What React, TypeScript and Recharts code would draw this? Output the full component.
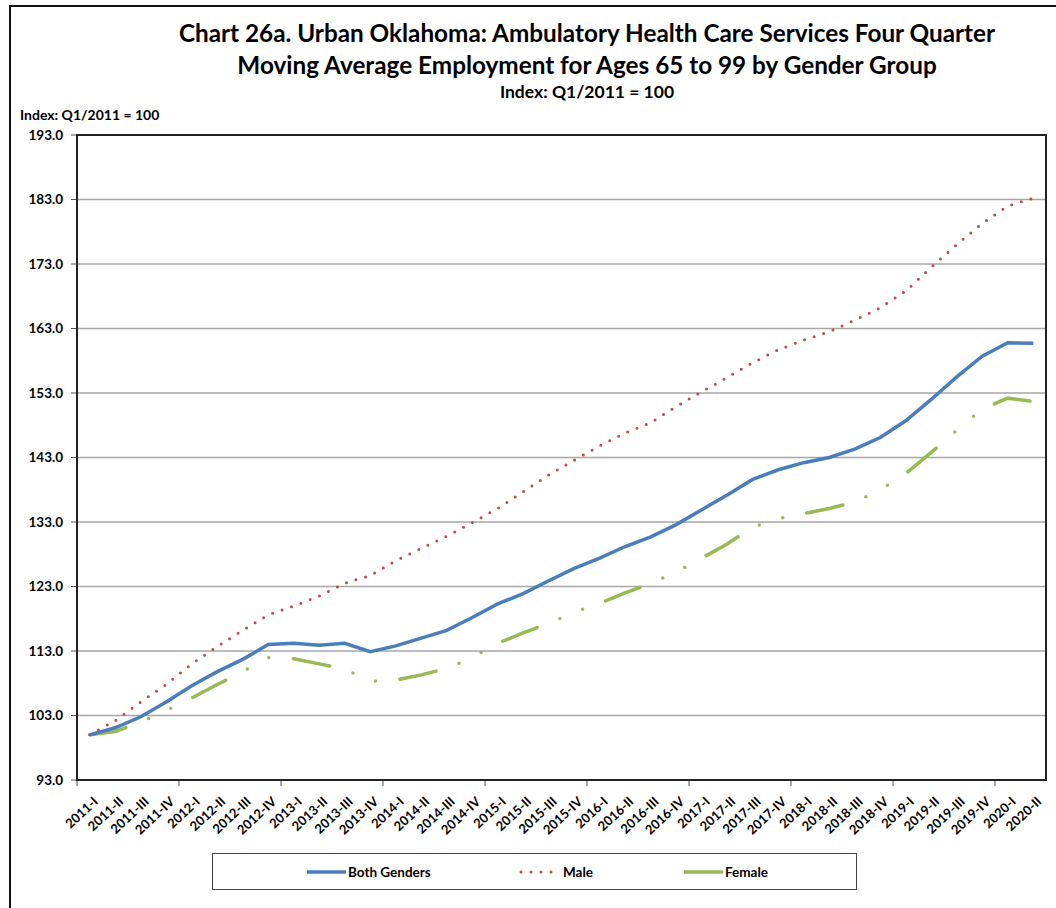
import React from "react";
import { LineChart, Line, XAxis, YAxis, CartesianGrid } from "recharts";

const quarters = [
  "2011-I", "2011-II", "2011-III", "2011-IV",
  "2012-I", "2012-II", "2012-III", "2012-IV",
  "2013-I", "2013-II", "2013-III", "2013-IV",
  "2014-I", "2014-II", "2014-III", "2014-IV",
  "2015-I", "2015-II", "2015-III", "2015-IV",
  "2016-I", "2016-II", "2016-III", "2016-IV",
  "2017-I", "2017-II", "2017-III", "2017-IV",
  "2018-I", "2018-II", "2018-III", "2018-IV",
  "2019-I", "2019-II", "2019-III", "2019-IV",
  "2020-I", "2020-II",
];

const bothGenders = [
  100.0, 101.1, 102.8, 105.1, 107.6, 109.8, 111.7, 114.0, 114.2, 113.9,
  114.2, 112.9, 113.8, 115.0, 116.2, 118.2, 120.3, 121.9, 123.9, 125.8,
  127.4, 129.2, 130.7, 132.6, 134.9, 137.2, 139.6, 141.1, 142.2, 143.0,
  144.3, 146.1, 148.7, 152.0, 155.5, 158.7, 160.8, 160.7,
];

const male = [
  100.0, 102.2, 105.1, 107.8, 111.0, 113.7, 116.2, 118.6, 120.0, 121.5,
  123.5, 124.7, 127.0, 128.9, 130.8, 132.9, 135.1, 137.7, 140.3, 142.6,
  144.8, 146.8, 148.4, 150.9, 153.2, 155.4, 157.7, 159.7, 161.2, 162.5,
  164.3, 166.2, 168.8, 172.5, 176.0, 179.3, 182.0, 183.2,
];

const female = [
  100.0, 100.5, 102.0, 103.8, 105.7, 107.8, 109.8, 112.0, 111.8, 111.0,
  110.2, 108.3, 108.5, 109.3, 110.3, 112.0, 114.2, 115.8, 117.3, 119.0,
  120.4, 122.0, 123.5, 125.2, 127.4, 129.6, 132.2, 133.5, 134.3, 135.1,
  136.1, 138.0, 140.5, 143.8, 147.2, 150.5, 152.2, 151.7,
];

const yTicks = [93, 103, 113, 123, 133, 143, 153, 163, 173, 183, 193];

const data = quarters.map((q, i) => ({
  q,
  both: bothGenders[i],
  male: male[i],
  female: female[i],
}));

const W = 1056;
const H = 908;
const PLOT_LEFT = 77;
const PLOT_RIGHT = 1046;
const PLOT_TOP = 135;
const PLOT_BOTTOM = 780;
const HALF_STEP = (PLOT_RIGHT - PLOT_LEFT) / quarters.length / 2;
const FONT = "Lato, 'Open Sans', sans-serif";

const BLUE = "#4a7ebb";
const RED = "#be4b48";
const GREEN = "#98b954";

function QuarterTick(props: any) {
  const { x, payload, index } = props;
  return (
    <g>
      {index % 4 === 0 && (
        <line x1={x - HALF_STEP} x2={x - HALF_STEP} y1={PLOT_BOTTOM} y2={PLOT_BOTTOM + 6} stroke="#555" />
      )}
      <text
        x={0}
        y={0}
        transform={`translate(${x + 2},${PLOT_BOTTOM + 15}) rotate(-43)`}
        textAnchor="end"
        dominantBaseline="hanging"
        fontSize={13}
        fontWeight={700}
        fontFamily={FONT}
        fill="#000"
      >
        {payload.value}
      </text>
    </g>
  );
}

export default function App() {
  return (
    <div style={{ position: "absolute", left: 0, top: 0, width: W, height: H, overflow: "hidden", background: "#fff", fontFamily: FONT }}>
      <div style={{ position: "absolute", left: 9, top: 5, width: 1200, height: 1200, border: "2.5px solid #111" }} />

      <div style={{ position: "absolute", left: 87, width: 1000, top: 17, textAlign: "center", fontWeight: 700, fontSize: 24.3, lineHeight: "32px", color: "#000" }}>
        Chart 26a. Urban Oklahoma: Ambulatory Health Care Services Four Quarter
        <br />
        Moving Average Employment for Ages 65 to 99 by Gender Group
      </div>
      <div style={{ position: "absolute", left: 387, width: 400, top: 81, textAlign: "center", fontWeight: 700, fontSize: 17.5, color: "#000" }}>
        Index: Q1/2011 = 100
      </div>
      <div style={{ position: "absolute", left: 20, top: 106, fontWeight: 700, fontSize: 14, color: "#000" }}>
        Index: Q1/2011 = 100
      </div>

      <div style={{ position: "absolute", left: 0, top: 0 }}>
        <LineChart
          width={W}
          height={H}
          data={data}
          margin={{ top: PLOT_TOP, right: W - PLOT_RIGHT, bottom: 58, left: 17 }}
        >
          <CartesianGrid vertical={false} stroke="#a6a6a6" strokeWidth={1.5} />
          <XAxis
            dataKey="q"
            interval={0}
            height={H - PLOT_BOTTOM - 58}
            padding={{ left: HALF_STEP, right: HALF_STEP }}
            tickLine={false}
            axisLine={{ stroke: "#222", strokeWidth: 2 }}
            tick={<QuarterTick />}
          />
          <YAxis
            width={PLOT_LEFT - 17}
            domain={[93, 193]}
            ticks={yTicks}
            interval={0}
            tickSize={6}
            tickMargin={8}
            tickFormatter={(v: number) => v.toFixed(1)}
            tick={{ fontSize: 13.5, fontWeight: 700, fill: "#000", fontFamily: FONT }}
            tickLine={{ stroke: "#555" }}
            axisLine={{ stroke: "#222", strokeWidth: 2 }}
          />
          <Line
            dataKey="female"
            stroke={GREEN}
            strokeWidth={3.5}
            strokeLinecap="round"
            strokeDasharray="37 24.5 0 24.5 0 24.5"
            dot={false}
            isAnimationActive={false}
          />
          <Line
            dataKey="male"
            stroke={RED}
            strokeWidth={3}
            strokeLinecap="round"
            strokeDasharray="0 10"
            dot={false}
            isAnimationActive={false}
          />
          <Line
            dataKey="both"
            stroke={BLUE}
            strokeWidth={3.5}
            dot={false}
            isAnimationActive={false}
          />
        </LineChart>
      </div>

      <div
        style={{
          position: "absolute",
          left: PLOT_LEFT - 1,
          top: PLOT_TOP - 1,
          width: PLOT_RIGHT - PLOT_LEFT + 2,
          height: PLOT_BOTTOM - PLOT_TOP + 2,
          boxSizing: "border-box",
          border: "2px solid #222",
          pointerEvents: "none",
        }}
      />

      <div
        style={{
          position: "absolute",
          left: 212,
          top: 853,
          width: 645,
          height: 37,
          boxSizing: "border-box",
          border: "1.5px solid #444",
        }}
      >
        <svg width={645} height={34} style={{ position: "absolute", left: 0, top: 0 }}>
          <line x1={94} x2={133} y1={18} y2={18} stroke={BLUE} strokeWidth={3.5} />
          <line x1={308} x2={348} y1={18} y2={18} stroke={RED} strokeWidth={3} strokeLinecap="round" strokeDasharray="0 10" />
          <line x1={471} x2={510} y1={18} y2={18} stroke={GREEN} strokeWidth={3.5} />
          <text x={135} y={22.5} fontSize={13.5} fontWeight={700} fontFamily={FONT}>Both Genders</text>
          <text x={350} y={22.5} fontSize={13.5} fontWeight={700} fontFamily={FONT}>Male</text>
          <text x={512} y={22.5} fontSize={13.5} fontWeight={700} fontFamily={FONT}>Female</text>
        </svg>
      </div>
    </div>
  );
}
